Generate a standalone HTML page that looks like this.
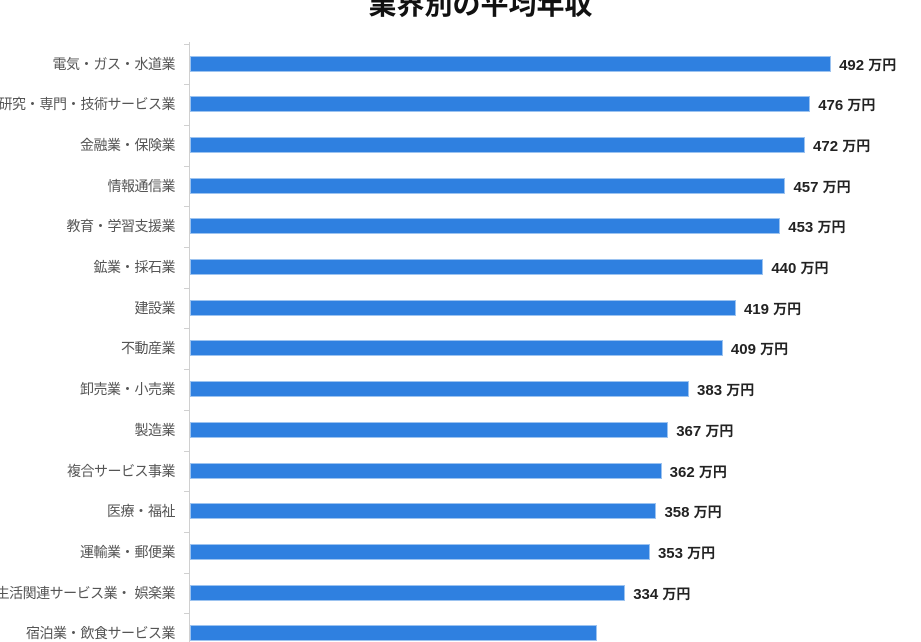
<!DOCTYPE html>
<html><head><meta charset="utf-8"><style>
body{margin:0;width:921px;height:627px;overflow:hidden;background:#fff;position:relative;font-family:"Liberation Sans","Noto Sans CJK JP",sans-serif}
.t{position:absolute;left:0;width:961px;text-align:center;top:-12px;font-size:28px;font-weight:bold;color:#111;line-height:34px}
.ax{position:absolute;left:189px;top:42px;width:1px;height:600px;background:#d0d0d0}
.tk{position:absolute;left:184px;width:5px;height:1px;background:#d0d0d0}
.b{position:absolute;left:190px;height:16px;background:#2f80e0;border:1px solid #9cc3f0;box-sizing:border-box}
.l{position:absolute;right:746px;font-size:14px;color:#555;white-space:nowrap;line-height:16px;letter-spacing:-0.5px}
.l i{font-style:normal;letter-spacing:-5px;margin-right:5px}
.v{position:absolute;font-size:15px;font-weight:bold;color:#222;white-space:nowrap;line-height:16px}
.v span{font-size:14px}
</style></head><body>
<div class="t">業界別の平均年収</div>
<div class="ax"></div>
<div id="c"></div>
<script>
var d=[["電気・ガス・水道業",492],["研究・専門・技術サービス業",476],["金融業・保険業",472],["情報通信業",457],["教育・学習支援業",453],["鉱業・採石業",440],["建設業",419],["不動産業",409],["卸売業・小売業",383],["製造業",367],["複合サービス事業",362],["医療・福祉",358],["運輸業・郵便業",353],["生活関連サービス業・ 娯楽業",334],["宿泊業・飲食サービス業",312]];
var h="";
for(var i=0;i<d.length;i++){var y=55.5+i*40.7;var w=d[i][1]*1.303;
h+='<div class="tk" style="top:'+(y-12)+'px"></div>';
h+='<div class="b" style="top:'+y+'px;width:'+w+'px"></div>';
h+='<div class="l" style="top:'+y+'px">'+d[i][0].replace(/・/g,'<i>・</i>')+'</div>';
if(i<14)h+='<div class="v" style="top:'+(y+1)+'px;left:'+(190+w+8)+'px">'+d[i][1]+' <span>万円</span></div>';}
document.getElementById("c").innerHTML=h;
</script>
</body></html>
